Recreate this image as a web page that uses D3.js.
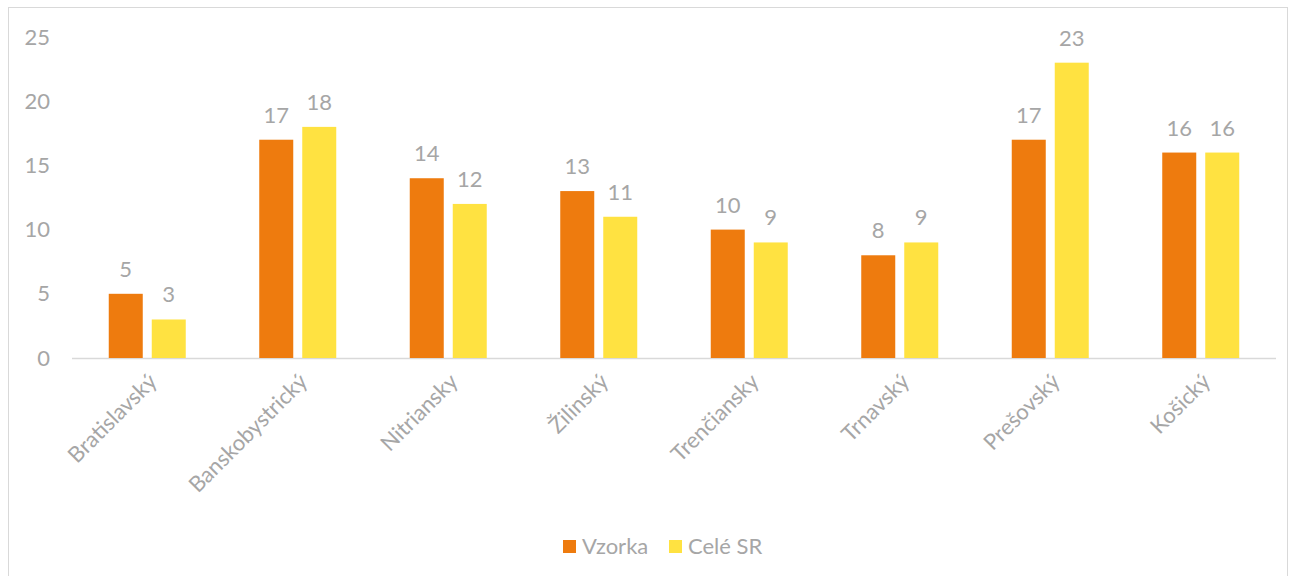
<!DOCTYPE html>
<html><head><meta charset="utf-8">
<script src="https://cdn.jsdelivr.net/npm/d3@7"></script>
<style>body{margin:0;background:#fff;}svg{display:block;font-family:Lato, "Open Sans", sans-serif;}</style>
</head><body><svg id="c" width="1292" height="576"></svg>
<script>
const categories = ["Bratislavský","Banskobystrický","Nitriansky","Žilinský","Trenčiansky","Trnavský","Prešovský","Košický"];
const vzorka = [5,17,14,13,10,8,17,16];
const celeSR = [3,18,12,11,9,9,23,16];
const seriesNames = ["Vzorka","Celé SR"];
const yTicks = [0,5,10,15,20,25];
const colors = ["#EE7B0E","#FFE241"];
const textColor = "#a6a6a6";

(function(){
const svg = d3.select("#c");
const fs = "22px";
svg.append("rect").attr("x",8.5).attr("y",7.5).attr("width",1279).attr("height",580)
  .attr("fill","#fff").attr("stroke","#d9d9d9");

const pLeft = 72, pRight = 1276, pTop = 37, pBottom = 358;
const x = d3.scaleBand().domain(categories).range([pLeft,pRight]);
const y = d3.scaleLinear().domain([0,25]).range([pBottom,pTop]);
const barW = 34, gap = 9;
const series = [vzorka, celeSR];

const yAxis = d3.axisLeft(y).tickValues(yTicks).tickSize(0).tickPadding(0);
const gy = svg.append("g").attr("transform","translate(50,0)").call(yAxis);
gy.select(".domain").remove();
gy.selectAll("text").attr("fill",textColor).style("font-size",fs).style("font-family","Lato, sans-serif");

svg.append("line").attr("x1",pLeft).attr("x2",pRight).attr("y1",pBottom+0.5).attr("y2",pBottom+0.5)
  .attr("stroke","#d9d9d9").attr("stroke-width",1.5);

series.forEach((vals,si)=>{
  const off = (si===0) ? -gap/2 - barW : gap/2;
  svg.append("g").selectAll("rect").data(vals).join("rect")
    .attr("x",(d,i)=>x(categories[i])+x.bandwidth()/2+off)
    .attr("y",d=>y(d)).attr("width",barW).attr("height",d=>pBottom-y(d))
    .attr("fill",colors[si]);
  svg.append("g").selectAll("text").data(vals).join("text")
    .attr("x",(d,i)=>x(categories[i])+x.bandwidth()/2+off+barW/2)
    .attr("y",d=>y(d)-17)
    .attr("text-anchor","middle").attr("fill",textColor).style("font-size",fs)
    .text(d=>d);
});

const xAxis = d3.axisBottom(x).tickSize(0).tickPadding(0);
const gx = svg.append("g").attr("transform",`translate(0,${pBottom})`).call(xAxis);
gx.select(".domain").remove();
gx.selectAll("text").attr("fill",textColor).style("font-size",fs).style("font-family","Lato, sans-serif")
  .attr("text-anchor","end").attr("dy",null).attr("y",0)
  .attr("transform","translate(11,25) rotate(-45)");

const lg = svg.append("g");
const lx = [563, 669];
seriesNames.forEach((n,i)=>{
  lg.append("rect").attr("x",lx[i]).attr("y",540).attr("width",13).attr("height",13).attr("fill",colors[i]);
  lg.append("text").attr("x",lx[i]+19).attr("y",554).attr("fill",textColor).style("font-size",fs).text(n);
});
})();
</script></body></html>
